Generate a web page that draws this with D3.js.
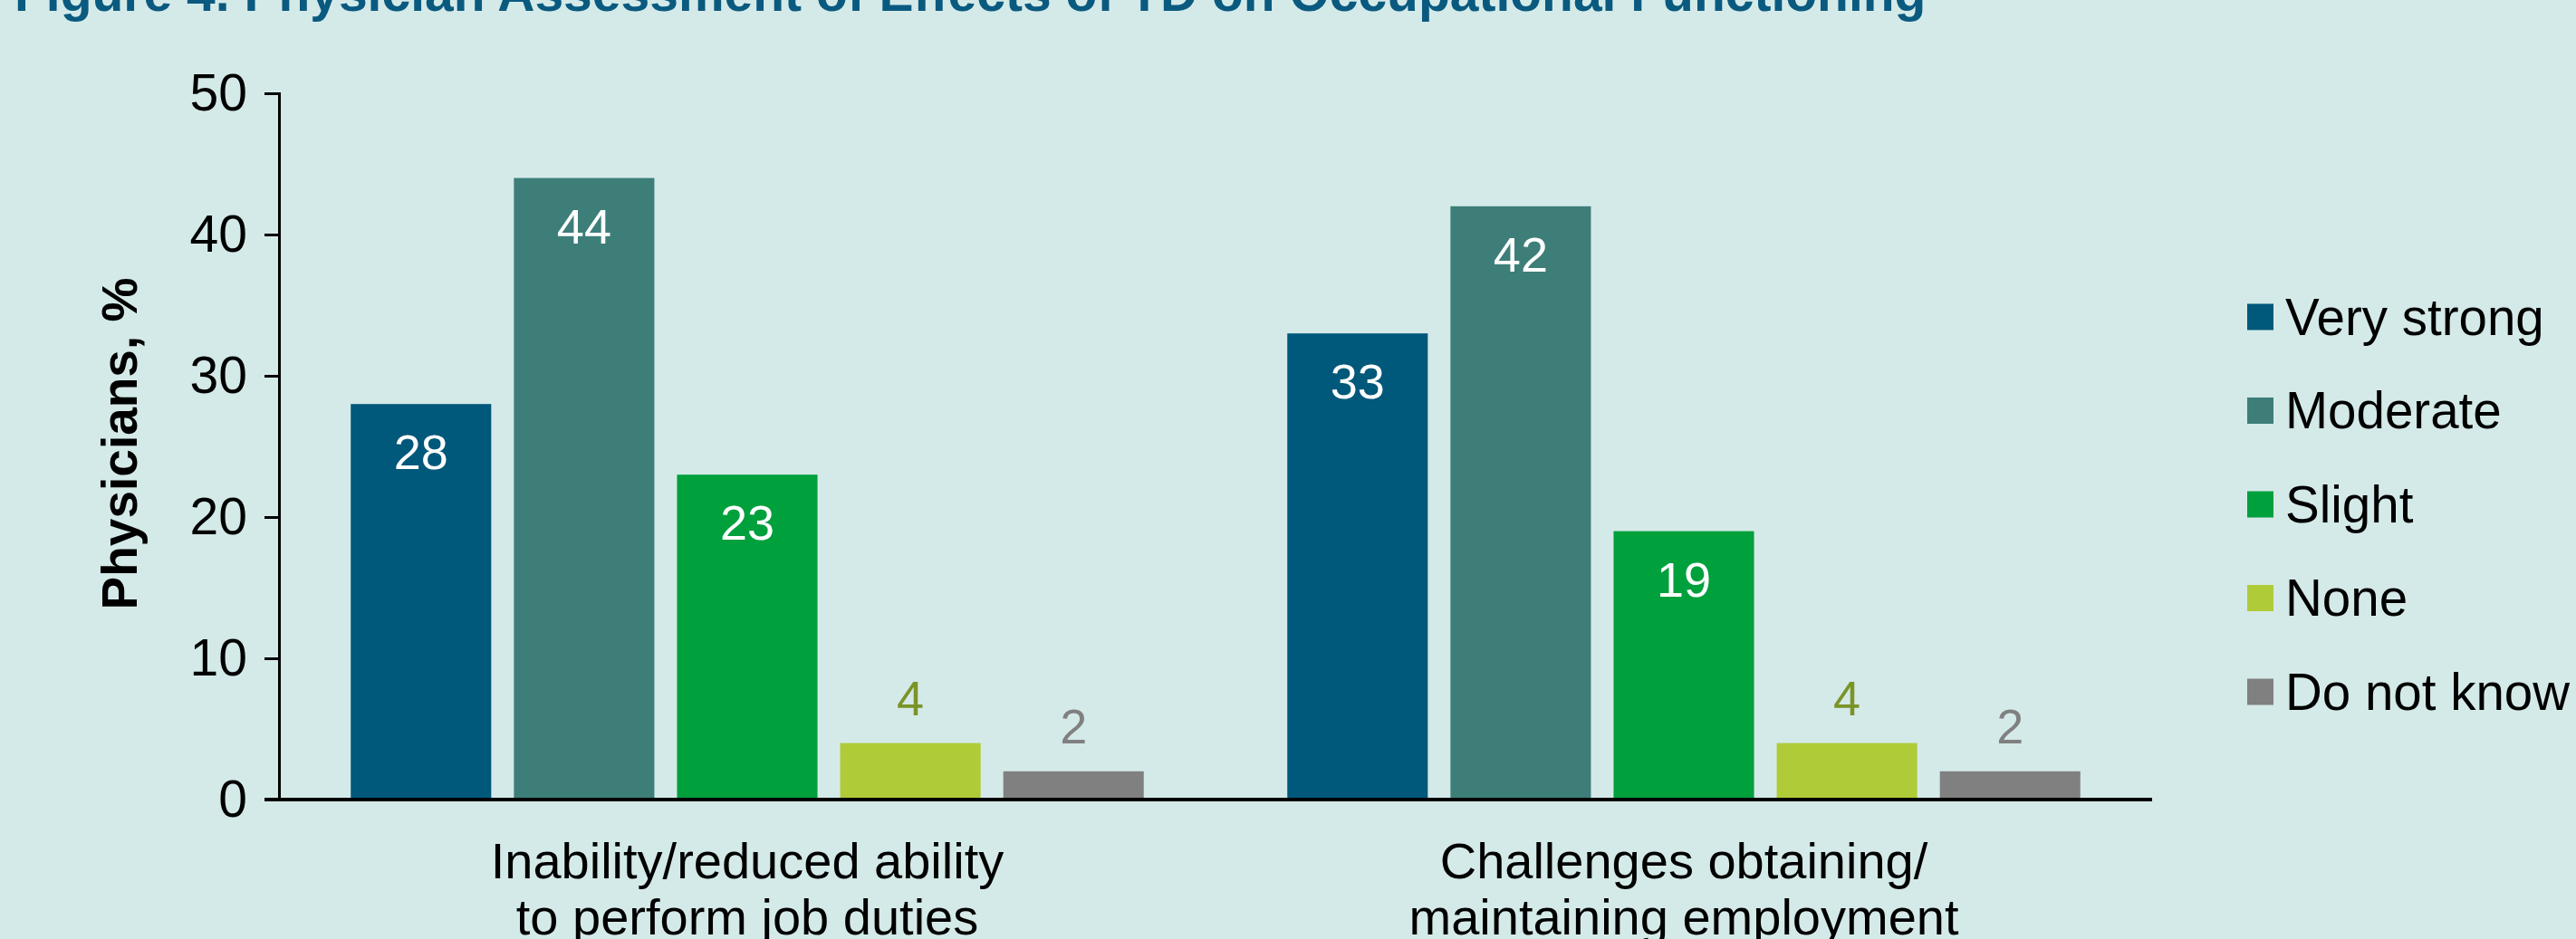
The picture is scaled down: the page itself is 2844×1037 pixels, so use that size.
<!DOCTYPE html>
<html lang="en">
<head>
  <meta charset="UTF-8">
  <title>Figure 4. Physician Assessment of Effects of TD on Occupational Functioning</title>
  <style>
    body {
      margin: 0;
      padding: 0;
      background-color: #d4eae8;
      overflow: hidden;
    }
    svg text {
      font-family: "Liberation Sans", Arial, sans-serif;
    }
  </style>
</head>
<body>
  <svg id="chart"></svg>

  <script src="https://d3js.org/d3.v7.min.js"></script>
  <script>
    // data
    const groups = ["Inability/reduced ability", "Challenges obtaining/"];
    const groupLines = [
      ["Inability/reduced ability", "to perform job duties"],
      ["Challenges obtaining/", "maintaining employment"]
    ];
    const series = ["Very strong", "Moderate", "Slight", "None", "Do not know"];
    const inabilityValues = [28, 44, 23, 4, 2];
    const challengesValues = [33, 42, 19, 4, 2];
    const yTicks = [0, 10, 20, 30, 40, 50];

    const colors = ["#00587a", "#3d7e79", "#00a03c", "#b0cb38", "#808080"];
    const outsideLabelColors = { "None": "#7b9428", "Do not know": "#808080" };

    const width = 2844;
    const height = 1037;
    const margin = { left: 308, right: 468, top: 103, bottom: 154 };

    const svg = d3.select("#chart")
      .attr("width", width)
      .attr("height", height);

    svg.append("rect")
      .attr("width", width)
      .attr("height", height)
      .attr("fill", "#d4eae8");

    // title, mostly cut off at the top
    svg.append("text")
      .attr("x", 16)
      .attr("y", 12)
      .attr("fill", "#0a5a80")
      .style("font-weight", "bold")
      .style("font-size", "57px")
      .text("Figure 4. Physician Assessment of Effects of TD on Occupational Functioning");

    const x0 = d3.scaleBand()
      .domain(groups)
      .range([margin.left, width - margin.right])
      .padding(0);

    const x1 = d3.scaleBand()
      .domain(series)
      .range([0, x0.bandwidth()])
      .paddingInner(0.139)
      .paddingOuter(0.44);

    const y = d3.scaleLinear()
      .domain([0, 50])
      .range([height - margin.bottom, margin.top]);

    const rows = [inabilityValues, challengesValues];

    // bars
    groups.forEach((g, gi) => {
      const grp = svg.append("g")
        .attr("transform", `translate(${x0(g)},0)`);

      grp.selectAll("rect")
        .data(series.map((s, i) => ({ s, v: rows[gi][i], c: colors[i] })))
        .enter()
        .append("rect")
        .attr("x", d => x1(d.s))
        .attr("y", d => y(d.v))
        .attr("width", x1.bandwidth())
        .attr("height", d => y(0) - y(d.v))
        .attr("fill", d => d.c);

      grp.selectAll(".val")
        .data(series.map((s, i) => ({ s, v: rows[gi][i] })))
        .enter()
        .append("text")
        .attr("class", "val")
        .attr("x", d => x1(d.s) + x1.bandwidth() / 2)
        .attr("y", d => d.v >= 10 ? y(d.v) + 53 : y(d.v) - 50)
        .attr("dy", "0.35em")
        .attr("text-anchor", "middle")
        .attr("fill", d => d.v >= 10 ? "#ffffff" : outsideLabelColors[d.s])
        .style("font-size", "54px")
        .text(d => d.v);
    });

    // y axis
    const yAxis = svg.append("g")
      .attr("transform", `translate(${margin.left},0)`)
      .call(d3.axisLeft(y).tickValues(yTicks).tickSize(16).tickPadding(19));

    yAxis.select(".domain").attr("stroke", "#000").attr("stroke-width", 3);
    yAxis.selectAll(".tick line").attr("stroke", "#000").attr("stroke-width", 3);
    yAxis.selectAll(".tick text")
      .style("font-size", "57px")
      .style("font-family", "'Liberation Sans', Arial, sans-serif")
      .attr("fill", "#000");

    // x baseline
    svg.append("line")
      .attr("x1", margin.left - 16)
      .attr("x2", width - margin.right)
      .attr("y1", y(0))
      .attr("y2", y(0))
      .attr("stroke", "#000")
      .attr("stroke-width", 4);

    // category labels
    groups.forEach((g, gi) => {
      const t = svg.append("text")
        .attr("x", x0(g) + x0.bandwidth() / 2)
        .attr("y", 950)
        .attr("text-anchor", "middle")
        .style("font-size", "56px")
        .attr("fill", "#000");
      groupLines[gi].forEach((line, li) => {
        t.append("tspan")
          .attr("x", x0(g) + x0.bandwidth() / 2)
          .attr("y", 950 + li * 62)
          .attr("dy", "0.35em")
          .text(line);
      });
    });

    // y axis title
    svg.append("text")
      .attr("transform", "translate(132,490) rotate(-90)")
      .attr("text-anchor", "middle")
      .attr("dy", "0.35em")
      .style("font-weight", "bold")
      .style("font-size", "55px")
      .attr("fill", "#000")
      .text("Physicians, %");

    // legend
    const legend = svg.append("g")
      .attr("transform", "translate(2481,350)");

    const item = legend.selectAll("g")
      .data(series)
      .enter()
      .append("g")
      .attr("transform", (d, i) => `translate(0,${i * 103.5})`);

    item.append("rect")
      .attr("x", 0)
      .attr("y", -14.5)
      .attr("width", 29)
      .attr("height", 29)
      .attr("fill", (d, i) => colors[i]);

    item.append("text")
      .attr("x", 42)
      .attr("y", 0)
      .attr("dy", "0.35em")
      .style("font-size", "56.5px")
      .attr("fill", "#000")
      .text(d => d);
  </script>
</body>
</html>
